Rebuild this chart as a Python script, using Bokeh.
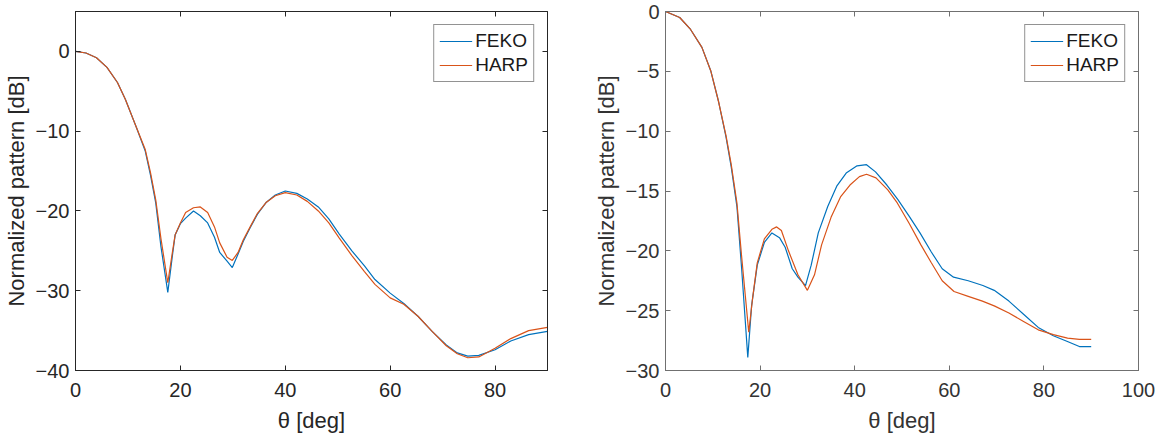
from bokeh.plotting import figure
from bokeh.models import LinearAxis, FixedTicker, Legend, LegendItem
from bokeh.layouts import row
from bokeh.embed import file_html
from bokeh.resources import INLINE

# ---------------- data ----------------
theta_left = [0, 2, 4, 6, 8, 9.5, 11.6, 13.3, 14.3, 15.3, 16.3, 17.6, 18.4, 19, 20, 21, 22.5, 23.8,
              25.2, 26.5, 27.5, 28.9, 29.9, 31, 32, 33.3, 34.7, 36.4, 38.1, 40, 42.2, 44.2, 46.3,
              48.3, 50.3, 52.7, 55.1, 57.1, 60, 62.6, 65.3, 68, 70.7, 72.8, 74.8, 76.9, 80, 83,
              86.4, 90]
feko_left = [0, -0.2, -0.8, -2.0, -3.9, -6.0, -9.5, -12.5, -15.5, -19.0, -24.5, -30.2, -26.0, -23.0,
             -21.6, -20.9, -20.0, -20.6, -21.5, -23.3, -25.2, -26.3, -27.1, -25.4, -23.8, -22.1,
             -20.4, -18.9, -18.0, -17.5, -17.8, -18.5, -19.5, -21.0, -22.9, -25.0, -26.9, -28.6,
             -30.3, -31.6, -33.2, -35.1, -36.8, -37.8, -38.2, -38.1, -37.4, -36.3, -35.5, -35.1]
harp_left = [0, -0.2, -0.8, -2.0, -3.9, -6.0, -9.5, -12.3, -15.2, -18.6, -23.5, -29.0, -25.5, -23.0,
             -21.5, -20.2, -19.6, -19.5, -20.2, -22.0, -24.0, -25.8, -26.2, -25.2, -23.6, -22.0,
             -20.3, -18.9, -18.1, -17.7, -18.0, -18.8, -20.0, -21.5, -23.4, -25.6, -27.6, -29.2,
             -30.9, -31.7, -33.2, -35.1, -36.9, -37.9, -38.4, -38.3, -37.2, -36.0, -35.0, -34.6]

theta_right_feko = [0, 3, 5.3, 7.7, 9.6, 11.2, 12.8, 13.9, 15.1, 16.1, 17.4, 18.2, 19.4, 20.9, 22.5,
                    24.1, 25.3, 26.8, 28, 29.6, 30.8, 32.3, 34.3, 36.2, 38.2, 40.5, 42.5, 44.4,
                    46.8, 49.1, 51.5, 53.8, 56.2, 58.5, 60.9, 64, 67.1, 69.5, 72.6, 75.7, 78.8, 82,
                    85.1, 87.5, 90]
feko_right = [0, -0.5, -1.5, -3.0, -5.0, -7.5, -10.5, -13.0, -16.3, -21.5, -28.9, -24.6, -21.2,
              -19.3, -18.5, -18.9, -19.7, -21.5, -22.2, -22.9, -21.2, -18.5, -16.3, -14.6, -13.5,
              -12.9, -12.8, -13.4, -14.5, -15.7, -17.1, -18.5, -20.1, -21.5, -22.2, -22.5, -22.9,
              -23.3, -24.2, -25.3, -26.4, -27.1, -27.6, -28.0, -28.0]
theta_right_harp = [0, 3, 5.3, 7.7, 9.6, 11.2, 12.8, 13.9, 15.1, 16.1, 17.6, 18.4, 19.4, 20.9, 22.5,
                    23.5, 24.5, 26, 28, 30, 31.5, 33, 35, 37, 39, 41, 42.5, 44.5, 47, 49, 51.5,
                    54, 56.2, 58.5, 61, 64, 67, 69.5, 72.6, 75.7, 78.8, 82, 85, 87.5, 90]
harp_right = [0, -0.5, -1.5, -3.0, -5.0, -7.5, -10.4, -12.8, -16.0, -20.5, -26.8, -24.0, -21.0,
              -19.0, -18.2, -18.0, -18.3, -20.0, -22.0, -23.3, -22.0, -19.5, -17.2, -15.5, -14.5,
              -13.8, -13.6, -13.9, -14.9, -16.0, -17.7, -19.5, -21.0, -22.5, -23.4, -23.8, -24.2,
              -24.6, -25.2, -25.9, -26.6, -27.0, -27.3, -27.4, -27.4]

xticks_left = [0, 20, 40, 60, 80]
yticks_left = [0, -10, -20, -30, -40]
xticks_right = [0, 20, 40, 60, 80, 100]
yticks_right = [0, -5, -10, -15, -20, -25, -30]

series_names = ["FEKO", "HARP"]
BLUE = "#0072BD"
RED = "#D95319"
FONT = "Liberation Sans"


def style_axes(p, xt, yt, axis_color, text_color, xlabel_standoff):
    p.xaxis.ticker = FixedTicker(ticks=xt)
    p.yaxis.ticker = FixedTicker(ticks=yt)
    for ax in p.xaxis + p.yaxis:
        ax.axis_line_color = axis_color
        ax.major_tick_line_color = axis_color
        ax.major_tick_in = 5
        ax.major_tick_out = 0
        ax.minor_tick_line_color = None
        ax.major_label_text_font = FONT
        ax.major_label_text_font_size = "20px"
        ax.major_label_text_color = text_color
        ax.axis_label_text_font = FONT
        ax.axis_label_text_font_size = "22px"
        ax.axis_label_text_font_style = "normal"
        ax.axis_label_text_color = text_color
    p.xaxis.major_label_standoff = 12
    p.yaxis.major_label_standoff = 6
    p.xaxis.axis_label_standoff = xlabel_standoff
    p.yaxis.axis_label_standoff = 4
    # box ticks on top and right (no labels drawn)
    for loc in ("above", "right"):
        ax = LinearAxis(ticker=FixedTicker(ticks=xt if loc == "above" else yt))
        ax.axis_line_color = axis_color
        ax.major_tick_line_color = axis_color
        ax.major_tick_in = 5
        ax.major_tick_out = 0
        ax.minor_tick_line_color = None
        ax.major_label_text_color = None
        ax.major_label_text_font_size = "1px"
        ax.major_label_standoff = 0
        p.add_layout(ax, loc)
    p.xgrid.visible = False
    p.ygrid.visible = False
    p.outline_line_color = axis_color


def make_plot(width, bl, br, bb, xr, yr, xt, yt, thf, yf, thh, yh, axis_color, text_color,
              xlabel_standoff):
    p = figure(width=width, height=439, x_range=xr, y_range=yr,
               output_backend="svg", toolbar_location=None,
               min_border_left=bl, min_border_right=br, min_border_top=11,
               min_border_bottom=bb, background_fill_color="white",
               border_fill_color="white")
    p.xaxis.axis_label = "θ [deg]"
    p.yaxis.axis_label = "Normalized pattern [dB]"
    style_axes(p, xt, yt, axis_color, text_color, xlabel_standoff)
    r1 = p.line(thf, yf, line_color=BLUE, line_width=1.2)
    r2 = p.line(thh, yh, line_color=RED, line_width=1.2)
    leg = Legend(items=[LegendItem(label=series_names[0], renderers=[r1]),
                        LegendItem(label=series_names[1], renderers=[r2])],
                 location="top_right", margin=13, padding=5, spacing=2,
                 glyph_width=33, glyph_height=22, label_height=22,
                 label_standoff=3,
                 label_text_font=FONT, label_text_font_size="19px",
                 label_text_color="#1a1a1a",
                 border_line_color="#262626", border_line_width=1,
                 background_fill_color="white", background_fill_alpha=1)
    p.add_layout(leg, "center")
    return p


p1 = make_plot(590, 75, 43, 69, (0, 90), (-40, 5), xticks_left, yticks_left,
               theta_left, feko_left, theta_left, harp_left, "#262626", "#262626", 8)
p2 = make_plot(573, 71, 25, 67, (0, 100), (-30, 0), xticks_right, yticks_right,
               theta_right_feko, feko_right, theta_right_harp, harp_right, "#707070", "#333333",
               8)

layout = row(p1, p2, spacing=0)
open("out.html", "w").write(file_html(layout, INLINE))
